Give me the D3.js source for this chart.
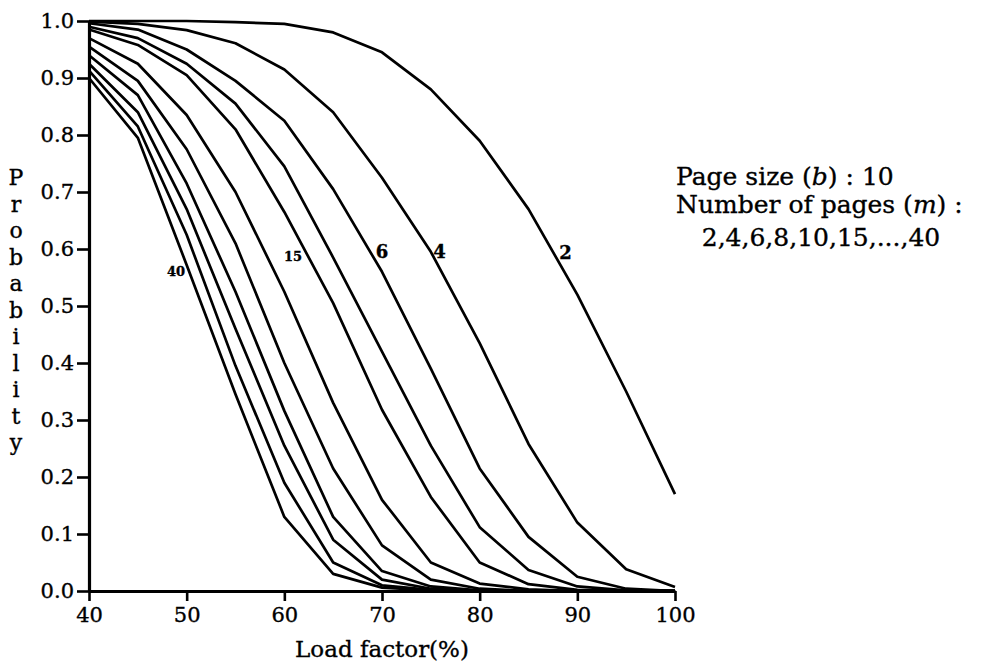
<!DOCTYPE html>
<html>
<head>
<meta charset="utf-8">
<script src="https://cdn.jsdelivr.net/npm/d3@7"></script>
<style>
  body { margin: 0; background: #fff; }
  svg text { font-family: "DejaVu Serif", serif; fill: #000; stroke: #000; stroke-width: 0.35px; }
</style>
</head>
<body>
<svg id="chart" width="984" height="672"></svg>
<script>
// load factor (%) at which each curve was sampled
var loadFactor = [40, 45, 50, 55, 60, 65, 70, 75, 80, 85, 90, 95, 100];
// number of pages m for each curve
var pageCounts = [2, 4, 6, 8, 10, 15, 20, 25, 30, 35, 40];

// probability, one array per m
var p2  = [1.000, 1.000, 1.000, 0.998, 0.995, 0.980, 0.945, 0.880, 0.790, 0.670, 0.520, 0.350, 0.170];
var p4  = [0.999, 0.995, 0.984, 0.961, 0.915, 0.840, 0.725, 0.595, 0.435, 0.258, 0.120, 0.038, 0.007];
var p6  = [0.996, 0.985, 0.950, 0.895, 0.825, 0.705, 0.560, 0.390, 0.215, 0.095, 0.025, 0.004, 0.000];
var p8  = [0.990, 0.970, 0.925, 0.855, 0.745, 0.585, 0.420, 0.255, 0.112, 0.037, 0.008, 0.001, 0.000];
var p10 = [0.985, 0.958, 0.905, 0.810, 0.665, 0.505, 0.318, 0.165, 0.050, 0.012, 0.002, 0.000, 0.000];
var p15 = [0.970, 0.925, 0.835, 0.700, 0.525, 0.330, 0.160, 0.050, 0.013, 0.003, 0.000, 0.000, 0.000];
var p20 = [0.955, 0.895, 0.775, 0.610, 0.400, 0.215, 0.080, 0.020, 0.004, 0.000, 0.000, 0.000, 0.000];
var p25 = [0.940, 0.870, 0.715, 0.525, 0.316, 0.130, 0.035, 0.008, 0.001, 0.000, 0.000, 0.000, 0.000];
var p30 = [0.925, 0.840, 0.670, 0.460, 0.255, 0.090, 0.020, 0.004, 0.000, 0.000, 0.000, 0.000, 0.000];
var p35 = [0.913, 0.815, 0.625, 0.395, 0.190, 0.050, 0.010, 0.002, 0.000, 0.000, 0.000, 0.000, 0.000];
var p40 = [0.900, 0.795, 0.572, 0.345, 0.130, 0.030, 0.006, 0.001, 0.000, 0.000, 0.000, 0.000, 0.000];

var xTicks = [40, 50, 60, 70, 80, 90, 100];
var yTicks = [0, 0.1, 0.2, 0.3, 0.4, 0.5, 0.6, 0.7, 0.8, 0.9, 1.0];

// curve labels, placed in data units
var labelText = ['40', '15', '6', '4', '2'];
var labelX = [48.9, 60.9, 70.0, 75.9, 88.8];
var labelY = [0.561, 0.588, 0.595, 0.595, 0.593];

var series = [p2, p4, p6, p8, p10, p15, p20, p25, p30, p35, p40];

var svg = d3.select('#chart');

var x = d3.scaleLinear().domain([40, 100]).range([89, 675]);
var y = d3.scaleLinear().domain([0, 1]).range([591, 21]);

// curves
var line = d3.line()
  .x(function (d, i) { return x(loadFactor[i]); })
  .y(function (d) { return y(d); });

svg.append('g')
  .selectAll('path')
  .data(series)
  .enter()
  .append('path')
  .attr('d', line)
  .attr('fill', 'none')
  .attr('stroke', '#000')
  .attr('stroke-width', 2.7)
  .attr('stroke-linejoin', 'round');

// axes
var xAxis = svg.append('g')
  .attr('transform', 'translate(0,' + y(0) + ')')
  .call(d3.axisBottom(x).tickValues(xTicks).tickSize(10).tickSizeOuter(0).tickPadding(6));

var yAxis = svg.append('g')
  .attr('transform', 'translate(' + x(40) + ',0)')
  .call(d3.axisLeft(y).tickValues(yTicks).tickFormat(d3.format('.1f')).tickSize(12).tickSizeOuter(0).tickPadding(3));

[xAxis, yAxis].forEach(function (g) {
  g.select('.domain').attr('stroke', '#000').attr('stroke-width', 3.2);
  g.selectAll('.tick line').attr('stroke', '#000').attr('stroke-width', 2.6);
  g.selectAll('.tick text')
    .attr('font-family', '"DejaVu Serif", serif')
    .attr('font-size', 21)
    .attr('fill', '#000');
});

// x axis title
svg.append('text')
  .attr('x', x(70))
  .attr('y', 657)
  .attr('text-anchor', 'middle')
  .attr('font-size', 23)
  .text('Load factor(%)');

// y axis title, letters stacked
var yTitle = 'Probability'.split('');
svg.append('g')
  .selectAll('text')
  .data(yTitle)
  .enter()
  .append('text')
  .attr('x', 16)
  .attr('y', function (d, i) { return 185 + i * 26.5; })
  .attr('text-anchor', 'middle')
  .attr('font-size', 22)
  .text(function (d) { return d; });

// curve labels
svg.append('g')
  .selectAll('text')
  .data(labelText)
  .enter()
  .append('text')
  .attr('x', function (d, i) { return x(labelX[i]); })
  .attr('y', function (d, i) { return y(labelY[i]); })
  .attr('dy', '0.36em')
  .attr('text-anchor', 'middle')
  .attr('font-weight', 'bold')
  .attr('font-size', function (d) { return d.length > 1 ? 13 : 18; })
  .text(function (d) { return d; });

// legend note
var note = svg.append('g').attr('font-size', 25);
var l1 = note.append('text').attr('x', 676).attr('y', 185);
l1.append('tspan').text('Page size (');
l1.append('tspan').attr('font-style', 'italic').text('b');
l1.append('tspan').text(') : 10');
var l2 = note.append('text').attr('x', 676).attr('y', 213);
l2.append('tspan').text('Number of pages (');
l2.append('tspan').attr('font-style', 'italic').text('m');
l2.append('tspan').text(') :');
note.append('text')
  .attr('x', 821)
  .attr('y', 246)
  .attr('text-anchor', 'middle')
  .text('2,4,6,8,10,15,...,' + pageCounts[pageCounts.length - 1]);
</script>
</body>
</html>
